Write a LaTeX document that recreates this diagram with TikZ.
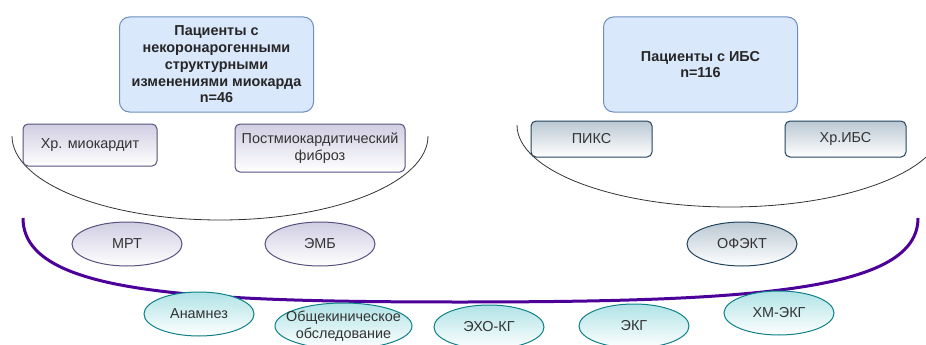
\documentclass[tikz,border=0pt]{standalone}
\usepackage{fontspec}
\setmainfont{Liberation Sans}
\usetikzlibrary{shapes.geometric}
\definecolor{headfill}{HTML}{DAE8FC}
\definecolor{headline}{HTML}{6C8EBF}
\definecolor{lilacfill}{HTML}{D0CEE2}
\definecolor{lilacline}{HTML}{56517E}
\definecolor{slatefill}{HTML}{BAC8D3}
\definecolor{slateline}{HTML}{23445D}
\definecolor{tealfill}{HTML}{B0E3E6}
\definecolor{tealline}{HTML}{0E8088}
\definecolor{bandcol}{HTML}{4C0099}
\definecolor{txt}{HTML}{333333}
\begin{document}
\begin{tikzpicture}[x=1pt,y=-1pt,font=\fontsize{14.4}{17}\selectfont,text=txt,
  head/.style={draw=headline,fill=headfill,line width=1pt,rounded corners=10pt,align=center,text=black!85,font=\bfseries\fontsize{14.4}{16.8}\selectfont,minimum width=194pt,minimum height=95pt,inner sep=2pt},
  lilacbox/.style={draw=lilacline,top color=lilacfill,bottom color=white,line width=1pt,rounded corners=5pt,align=center,inner sep=2pt},
  slatebox/.style={draw=slateline,top color=slatefill,bottom color=white,line width=1pt,rounded corners=5pt,minimum width=121pt,minimum height=36pt},
  oval/.style={ellipse,line width=1pt,minimum width=110pt,minimum height=44pt,inner sep=0pt,align=center},
  lilacoval/.style={oval,draw=lilacline,top color=lilacfill,bottom color=white},
  slateoval/.style={oval,draw=slateline,top color=slatefill,bottom color=white},
  tealoval/.style={oval,draw=tealline,top color=tealfill,bottom color=white}]
\useasboundingbox (0,0) rectangle (926,345);
\clip (0,0) rectangle (926,345);
% groups of patients
\node[head] (noncor) at (216.5,64.5) {Пациенты с\\некоронарогенными\\структурными\\изменениями миокарда\\n=46};
\node[head] (ihd) at (700.5,64.5) {Пациенты с ИБС\\n=116};
% subgroups and the brackets under them
\draw[line width=.8pt,black!80] (12,136) arc[start angle=180,end angle=0,x radius=208,y radius=84];
\draw[line width=.8pt,black!80] (517,125) arc[start angle=180,end angle=0,x radius=213,y radius=82];
\node[lilacbox,minimum width=134pt,minimum height=42pt] (myoc) at (90,145) {Хр. миокардит};
\node[lilacbox,minimum width=170pt,minimum height=48pt] (fibr) at (320,148) {Постмиокардитический\\фиброз};
\node[slatebox] (piks) at (591.5,139) {ПИКС};
\node[slatebox] (chihd) at (845.5,139) {Хр.ИБС};
% specific methods
\foreach \n/\x/\t in {mrt/127/МРТ,emb/320/ЭМБ}{\node[lilacoval] (\n) at (\x,244) {\t};}
\node[slateoval] (spect) at (742,244) {ОФЭКТ};
% common methods below the band
\draw[bandcol,line width=3pt] (23,218) .. controls (23,292) and (180,302) .. (460,302) .. controls (760,302) and (918,290) .. (918,218);
\foreach \n/\x/\y/\t in {anam/199/314/Анамнез,ecgecho/489/327/ЭХО-КГ,ecg/634/326/ЭКГ,holter/779/313/ХМ-ЭКГ}{\node[tealoval] (\n) at (\x,\y) {\t};}
\node[tealoval,minimum width=137pt,minimum height=46pt,inner sep=-10pt] (exam) at (343.5,326) {Общекиническое\\обследование};
\end{tikzpicture}
\end{document}
